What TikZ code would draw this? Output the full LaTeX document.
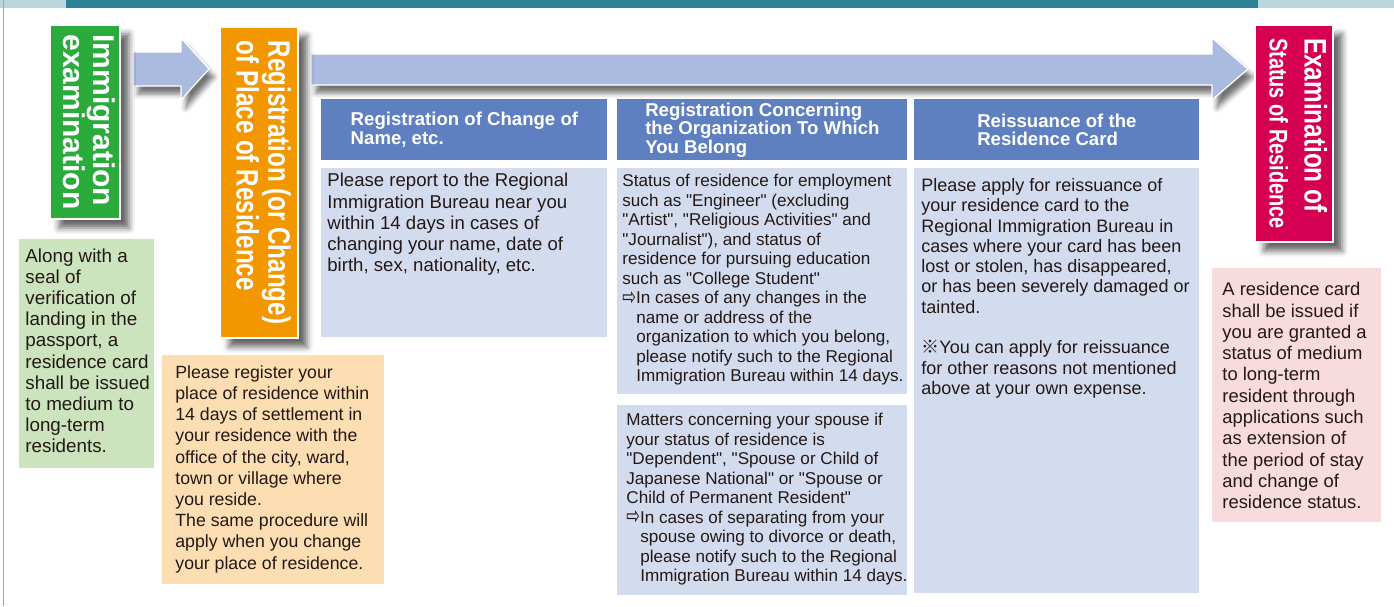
\documentclass[tikz,border=0pt]{standalone}
\usepackage{graphicx}
\usepackage{fontspec}
\setmainfont{Liberation Sans}
\newfontfamily\condfont[FakeStretch=0.78]{Liberation Sans}
\newfontfamily\quotefont{Liberation Sans}
\newfontfamily\symfont{DejaVu Sans}
\newfontfamily\cjkfont{Noto Sans CJK JP}
\usepackage{tikz}
\usetikzlibrary{shadows.blur}
\definecolor{BandTeal}{RGB}{45, 131, 150}
\definecolor{BandLight}{RGB}{187, 214, 222}
\definecolor{StageGreen}{RGB}{42, 171, 60}
\definecolor{StageOrange}{RGB}{243, 151, 0}
\definecolor{StageCrimson}{RGB}{213, 0, 82}
\definecolor{NoteGreen}{RGB}{204, 228, 190}
\definecolor{NoteOrange}{RGB}{252, 222, 178}
\definecolor{NotePink}{RGB}{247, 219, 221}
\definecolor{NoteBlue}{RGB}{211, 220, 238}
\definecolor{HeadBlue}{RGB}{94, 128, 192}
\definecolor{ArrowBlue}{RGB}{171, 187, 223}
\definecolor{InkBlack}{RGB}{35, 24, 21}
\tikzset{
    stagebox/.style={draw=white, line width=0.6pt, text=white, inner sep=0pt,
        blur shadow={shadow xshift=4.5pt, shadow yshift=-4.5pt, shadow opacity=60, shadow blur radius=3pt}},
    flowarrow/.style={fill=ArrowBlue, draw=white, line width=0.6pt,
        blur shadow={shadow xshift=2.5pt, shadow yshift=-4pt, shadow opacity=55, shadow blur radius=2.5pt}},
    headbox/.style={fill=HeadBlue, text=white, anchor=north west, inner sep=0pt, align=left,
        minimum height=30.5pt, font=\fontsize{9.3}{9.3}\selectfont\bfseries},
    notetext/.style={anchor=north west, inner sep=0pt, align=left, text=InkBlack}
}
\newcommand{\arrowmark}{{\symfont\raisebox{-0.15ex}{\scalebox{0.95}[1.45]{\char"21E8}}}}
\newcommand{\dq}{{\quotefont\symbol{34}}}

\begin{document}
\begin{tikzpicture}[x=0.5pt, y=-0.5pt]
    \useasboundingbox (0,0) rectangle (1394,606);

    % Top band
    \fill[BandLight] (0,0) rectangle (1394,8);
    \fill[BandTeal] (66,0) rectangle (1258,8);
    \draw[BandTeal!60, line width=0.8pt] (3.5,0) -- (3.5,606);

    % Arrows
    \path[flowarrow] (133,52) -- (181,52) -- (181,38) -- (209,69) -- (181,100)
        -- (181,86) -- (133,86) -- cycle;
    \path[flowarrow] (311,54) -- (1212,54) -- (1212,38) -- (1248,69) -- (1212,100)
        -- (1212,85) -- (311,85) -- cycle;

    % Immigration examination
    \node[stagebox, fill=StageGreen, minimum width=35pt, minimum height=97pt] (immig) at (85,122)
        {\rotatebox{-90}{\fontsize{15}{14.2}\selectfont\bfseries
        \begin{tabular}{@{}l@{}}Immigration\\examination\end{tabular}}};
    \fill[NoteGreen] (19,239) rectangle (154,468);
    \node[notetext, font=\fontsize{9.4}{10.6}\selectfont] (immignote) at (25,248)
        {Along with a\\seal of\\verification of\\landing in the\\passport, a\\residence card\\shall be issued\\to medium to\\long-term\\residents.};

    % Registration of place of residence
    \node[stagebox, fill=StageOrange, minimum width=39pt, minimum height=155.5pt] (place) at (259,182.5)
        {\rotatebox{-90}{\condfont\fontsize{15.5}{15.8}\selectfont\bfseries
        \begin{tabular}{@{}l@{}}Registration (or Change)\\of Place of Residence\end{tabular}}};
    \fill[NoteOrange] (162,355) rectangle (384,584);
    \node[notetext, font=\fontsize{8.85}{10.6}\selectfont] (placenote) at (175,365)
        {Please register your\\place of residence within\\14 days of settlement in\\your residence with the\\office of the city, ward,\\town or village where\\you reside.\\The same procedure will\\apply when you change\\your place of residence.};

    % Change of name
    \node[headbox, minimum width=143pt] (namehead) at (321,99)
        {Registration of Change of\\Name, etc.};
    \fill[NoteBlue] (321,168) rectangle (607,337);
    \node[notetext, font=\fontsize{9.3}{10.6}\selectfont] (namenote) at (327,173)
        {Please report to the Regional\\Immigration Bureau near you\\within 14 days in cases of\\changing your name, date of\\birth, sex, nationality, etc.};

    % Organization
    \node[headbox, minimum width=145pt] (orghead) at (617,99)
        {Registration Concerning\\the Organization To Which\\You Belong};
    \fill[NoteBlue] (617,168) rectangle (907,394);
    \node[notetext, font=\fontsize{8.55}{9.75}\selectfont] (orgnote) at (622,174)
        {Status of residence for employment\\such as \dq{}Engineer\dq{} (excluding\\\dq{}Artist\dq{}, \dq{}Religious Activities\dq{} and\\\dq{}Journalist\dq{}), and status of\\residence for pursuing education\\such as \dq{}College Student\dq{}\\
        \arrowmark In cases of any changes in the\\\hspace*{7pt}name or address of the\\\hspace*{7pt}organization to which you belong,\\\hspace*{7pt}please notify such to the Regional\\\hspace*{7pt}Immigration Bureau within 14 days.};
    \fill[NoteBlue] (617,405) rectangle (907,595);
    \node[notetext, font=\fontsize{8.55}{9.75}\selectfont] (spousenote) at (626,413)
        {Matters concerning your spouse if\\your status of residence is\\\dq{}Dependent\dq{}, \dq{}Spouse or Child of\\Japanese National\dq{} or \dq{}Spouse or\\Child of Permanent Resident\dq{}\\
        \arrowmark In cases of separating from your\\\hspace*{7pt}spouse owing to divorce or death,\\\hspace*{7pt}please notify such to the Regional\\\hspace*{7pt}Immigration Bureau within 14 days.};

    % Reissuance
    \node[headbox, minimum width=142.5pt] (cardhead) at (914,99)
        {Reissuance of the\\Residence Card};
    \fill[NoteBlue] (914,168) rectangle (1199,593);
    \node[notetext, font=\fontsize{9}{10.15}\selectfont] (cardnote) at (921,178)
        {Please apply for reissuance of\\your residence card to the\\Regional Immigration Bureau in\\cases where your card has been\\lost or stolen, has disappeared,\\or has been severely damaged or\\tainted.\\[10.15pt]
        {\cjkfont ※}You can apply for reissuance\\for other reasons not mentioned\\above at your own expense.};

    % Examination of status of residence
    \node[stagebox, fill=StageCrimson, minimum width=39pt, minimum height=108.5pt] (status) at (1294,133.5)
        {\rotatebox{-90}{\condfont\fontsize{15.6}{17.5}\selectfont\bfseries
        \begin{tabular}{@{}l@{}}Examination of\\{\fontsize{12.8}{14}\selectfont Status of Residence}\end{tabular}}};
    \fill[NotePink] (1212,268) rectangle (1381,522);
    \node[notetext, font=\fontsize{9.2}{10.65}\selectfont] (statusnote) at (1222,282)
        {A residence card\\shall be issued if\\you are granted a\\status of medium\\to long-term\\resident through\\applications such\\as extension of\\the period of stay\\and change of\\residence status.};
\end{tikzpicture}
\end{document}
